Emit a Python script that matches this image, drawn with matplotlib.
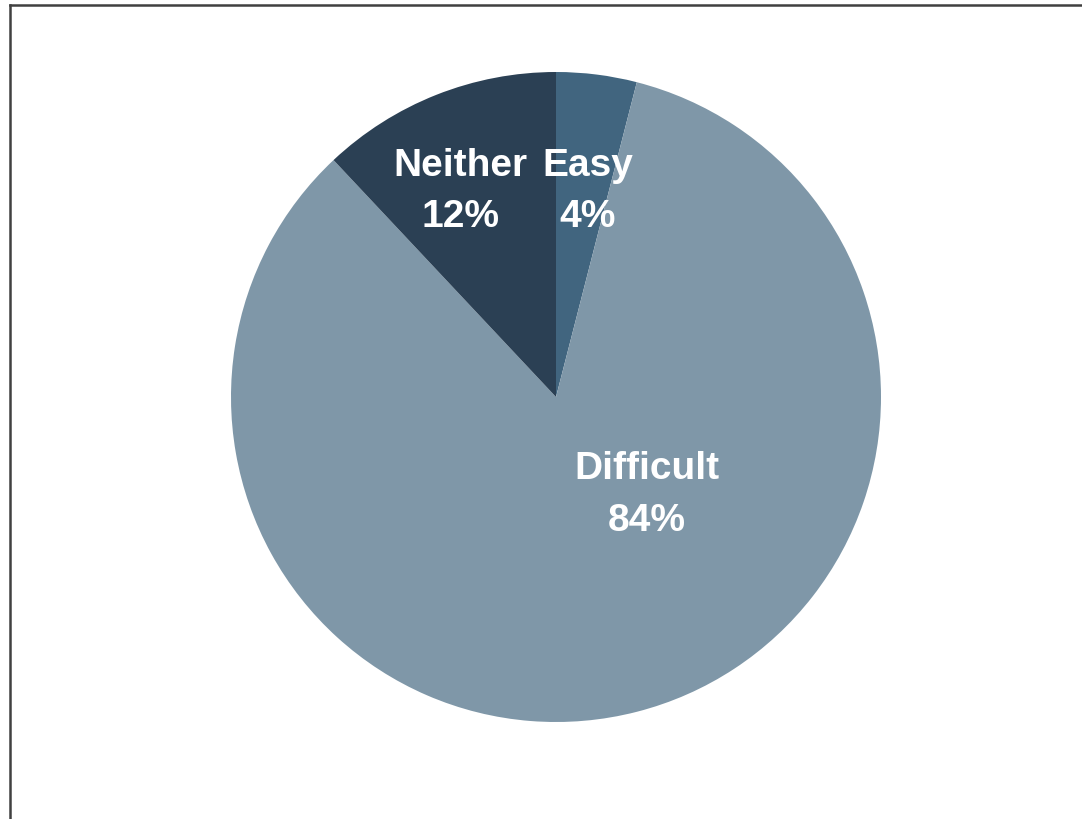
import matplotlib
matplotlib.use("Agg")
import matplotlib.pyplot as plt
from matplotlib.lines import Line2D

# Survey responses: how easy or difficult
categories = ["Easy", "Difficult", "Neither"]
shares = [4, 84, 12]
colors = ["#41657F", "#7F97A8", "#2B4054"]
# label anchor (x, y) in pie-radius units for each slice
label_pos = {"Easy": (0.098, 0.632), "Difficult": (0.28, -0.302), "Neither": (-0.295, 0.632)}

plt.rcParams["font.family"] = ["Liberation Sans", "DejaVu Sans"]

W, H, DPI = 1082, 819, 100
fig = plt.figure(figsize=(W / DPI, H / DPI), dpi=DPI)
fig.patch.set_facecolor("white")

ax = fig.add_axes([0, 0, 1, 1])
R_PX = 325.0
CX, CY = 556.0, 397.0

ax.pie(shares, colors=colors, startangle=90, counterclock=False,
       radius=1.0, center=(0, 0), frame=True,
       wedgeprops=dict(linewidth=0))
ax.set_xlim(-CX / R_PX, (W - CX) / R_PX)
ax.set_ylim(-(H - CY) / R_PX, CY / R_PX)
ax.set_aspect("equal")
ax.axis("off")

for name, val in zip(categories, shares):
    x, y = label_pos[name]
    ax.text(x, y, f"{name}\n{val}%", ha="center", va="center",
            color="white", fontsize=28, fontweight="bold", linespacing=1.55)

# frame lines along the top and left edges
fig.add_artist(Line2D([9.5 / W, 9.5 / W], [0, 1 - 5 / H], transform=fig.transFigure,
                      color="#404040", linewidth=1.8, solid_capstyle="projecting"))
fig.add_artist(Line2D([9.5 / W, 1], [1 - 5 / H, 1 - 5 / H], transform=fig.transFigure,
                      color="#404040", linewidth=1.8, solid_capstyle="projecting"))

fig.savefig("out.png", dpi=DPI, facecolor="white")
